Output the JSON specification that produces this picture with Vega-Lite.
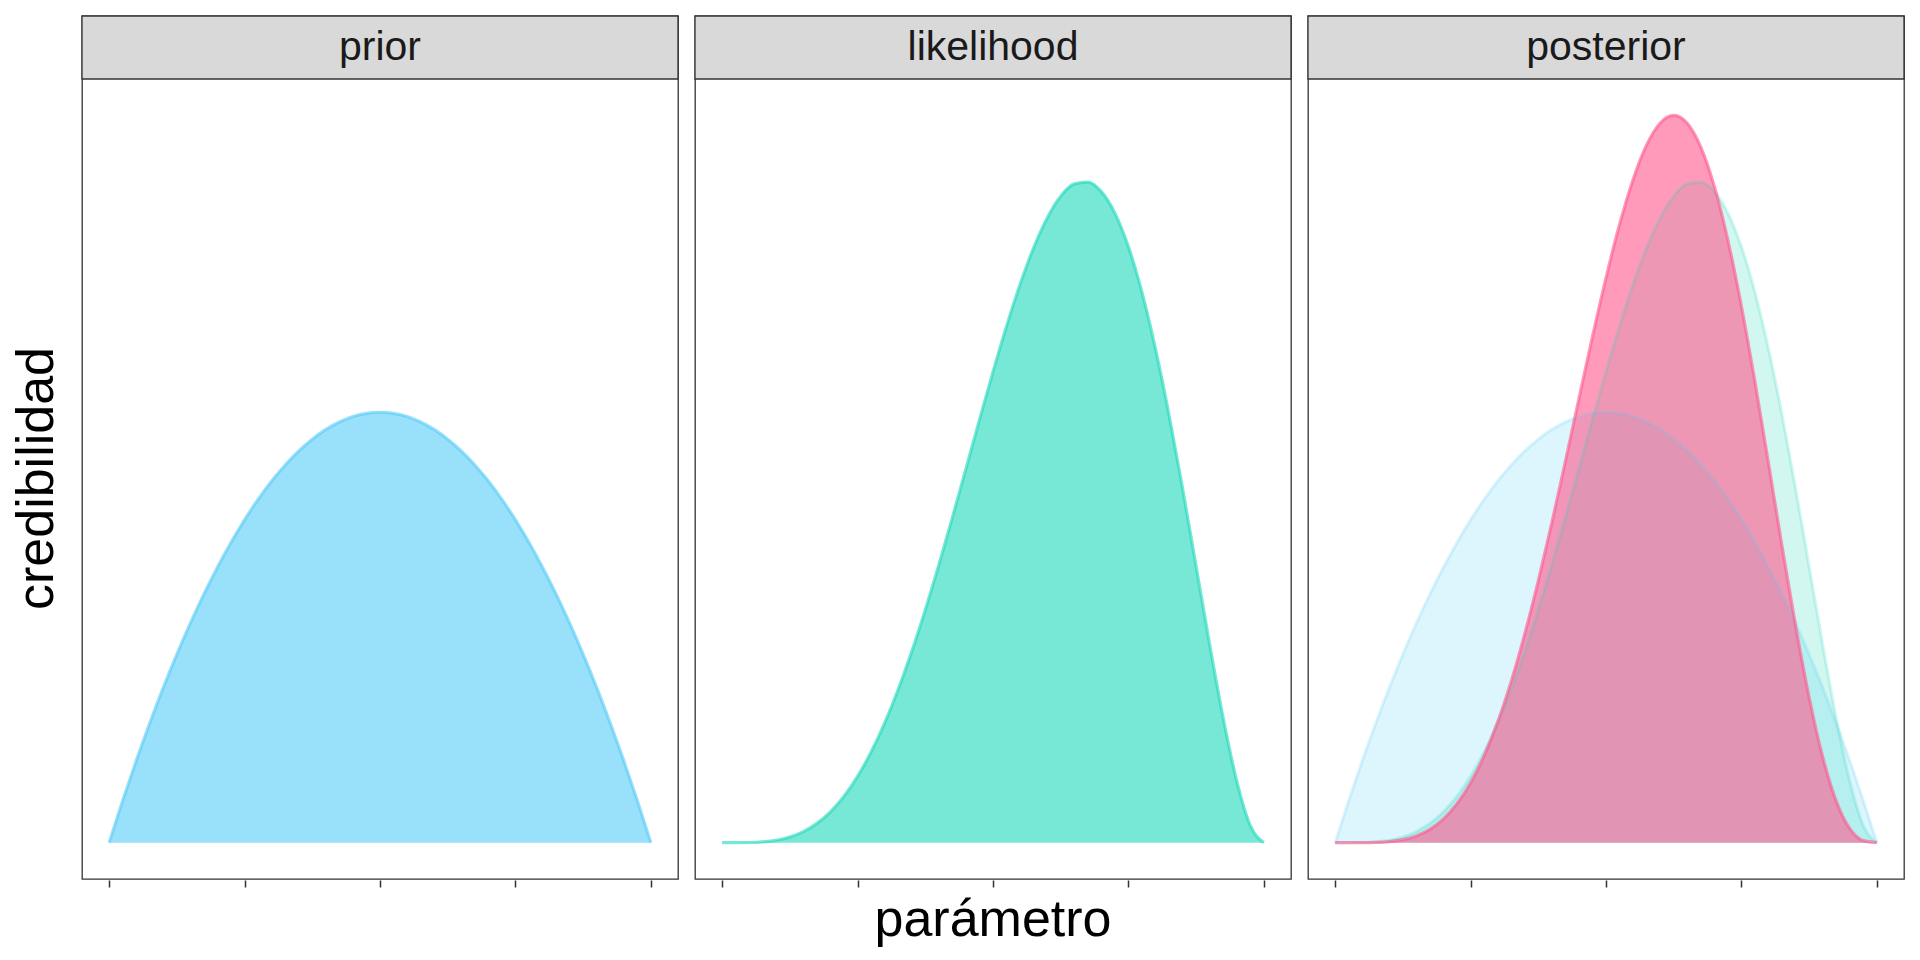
{
  "$schema": "https://vega.github.io/schema/vega-lite/v6.json",
  "padding": {"left": 10, "top": 14, "right": 5, "bottom": 5},
  "background": "white",
  "config": {
    "font": "Liberation Sans",
    "view": {"stroke": "#333333", "strokeWidth": 1.3},
    "axis": {"grid": false, "domain": false}
  },
  "data": {
    "values": [
      {"panel":"prior","series":"prior","x":0,"y":0},{"panel":"prior","series":"prior","x":0.025,"y":0.14625},{"panel":"prior","series":"prior","x":0.05,"y":0.285},{"panel":"prior","series":"prior","x":0.075,"y":0.41625},{"panel":"prior","series":"prior","x":0.1,"y":0.54},{"panel":"prior","series":"prior","x":0.125,"y":0.65625},{"panel":"prior","series":"prior","x":0.15,"y":0.765},{"panel":"prior","series":"prior","x":0.175,"y":0.86625},{"panel":"prior","series":"prior","x":0.2,"y":0.96},{"panel":"prior","series":"prior","x":0.225,"y":1.04625},{"panel":"prior","series":"prior","x":0.25,"y":1.125},{"panel":"prior","series":"prior","x":0.275,"y":1.19625},{"panel":"prior","series":"prior","x":0.3,"y":1.26},{"panel":"prior","series":"prior","x":0.325,"y":1.31625},{"panel":"prior","series":"prior","x":0.35,"y":1.365},{"panel":"prior","series":"prior","x":0.375,"y":1.40625},{"panel":"prior","series":"prior","x":0.4,"y":1.44},{"panel":"prior","series":"prior","x":0.425,"y":1.46625},{"panel":"prior","series":"prior","x":0.45,"y":1.485},{"panel":"prior","series":"prior","x":0.475,"y":1.49625},{"panel":"prior","series":"prior","x":0.5,"y":1.5},{"panel":"prior","series":"prior","x":0.525,"y":1.49625},{"panel":"prior","series":"prior","x":0.55,"y":1.485},{"panel":"prior","series":"prior","x":0.575,"y":1.46625},{"panel":"prior","series":"prior","x":0.6,"y":1.44},{"panel":"prior","series":"prior","x":0.625,"y":1.40625},{"panel":"prior","series":"prior","x":0.65,"y":1.365},{"panel":"prior","series":"prior","x":0.675,"y":1.31625},{"panel":"prior","series":"prior","x":0.7,"y":1.26},{"panel":"prior","series":"prior","x":0.725,"y":1.19625},{"panel":"prior","series":"prior","x":0.75,"y":1.125},{"panel":"prior","series":"prior","x":0.775,"y":1.04625},{"panel":"prior","series":"prior","x":0.8,"y":0.96},{"panel":"prior","series":"prior","x":0.825,"y":0.86625},{"panel":"prior","series":"prior","x":0.85,"y":0.765},{"panel":"prior","series":"prior","x":0.875,"y":0.65625},{"panel":"prior","series":"prior","x":0.9,"y":0.54},{"panel":"prior","series":"prior","x":0.925,"y":0.41625},{"panel":"prior","series":"prior","x":0.95,"y":0.285},{"panel":"prior","series":"prior","x":0.975,"y":0.14625},{"panel":"prior","series":"prior","x":1,"y":0},

      {"panel":"likelihood","series":"likelihood","x":0,"y":0},{"panel":"likelihood","series":"likelihood","x":0.025,"y":0.00004},{"panel":"likelihood","series":"likelihood","x":0.05,"y":0.00059},{"panel":"likelihood","series":"likelihood","x":0.075,"y":0.00284},{"panel":"likelihood","series":"likelihood","x":0.1,"y":0.00851},{"panel":"likelihood","series":"likelihood","x":0.125,"y":0.01962},{"panel":"likelihood","series":"likelihood","x":0.15,"y":0.03841},{"panel":"likelihood","series":"likelihood","x":0.175,"y":0.06703},{"panel":"likelihood","series":"likelihood","x":0.2,"y":0.10752},{"panel":"likelihood","series":"likelihood","x":0.225,"y":0.16163},{"panel":"likelihood","series":"likelihood","x":0.25,"y":0.23071},{"panel":"likelihood","series":"likelihood","x":0.275,"y":0.31564},{"panel":"likelihood","series":"likelihood","x":0.3,"y":0.41675},{"panel":"likelihood","series":"likelihood","x":0.325,"y":0.53375},{"panel":"likelihood","series":"likelihood","x":0.35,"y":0.66571},{"panel":"likelihood","series":"likelihood","x":0.375,"y":0.8111},{"panel":"likelihood","series":"likelihood","x":0.4,"y":0.96768},{"panel":"likelihood","series":"likelihood","x":0.425,"y":1.13262},{"panel":"likelihood","series":"likelihood","x":0.45,"y":1.30246},{"panel":"likelihood","series":"likelihood","x":0.475,"y":1.47329},{"panel":"likelihood","series":"likelihood","x":0.5,"y":1.64063},{"panel":"likelihood","series":"likelihood","x":0.525,"y":1.79975},{"panel":"likelihood","series":"likelihood","x":0.55,"y":1.94565},{"panel":"likelihood","series":"likelihood","x":0.575,"y":2.07319},{"panel":"likelihood","series":"likelihood","x":0.6,"y":2.17728},{"panel":"likelihood","series":"likelihood","x":0.625,"y":2.25306},{"panel":"likelihood","series":"likelihood","x":0.65,"y":2.29604},{"panel":"likelihood","series":"likelihood","x":0.675,"y":2.30235},{"panel":"likelihood","series":"likelihood","x":0.7,"y":2.26895},{"panel":"likelihood","series":"likelihood","x":0.725,"y":2.19385},{"panel":"likelihood","series":"likelihood","x":0.75,"y":2.07642},{"panel":"likelihood","series":"likelihood","x":0.775,"y":1.91762},{"panel":"likelihood","series":"likelihood","x":0.8,"y":1.72032},{"panel":"likelihood","series":"likelihood","x":0.825,"y":1.48963},{"panel":"likelihood","series":"likelihood","x":0.85,"y":1.23324},{"panel":"likelihood","series":"likelihood","x":0.875,"y":0.96171},{"panel":"likelihood","series":"likelihood","x":0.9,"y":0.68891},{"panel":"likelihood","series":"likelihood","x":0.925,"y":0.43239},{"panel":"likelihood","series":"likelihood","x":0.95,"y":0.21381},{"panel":"likelihood","series":"likelihood","x":0.975,"y":0.0593},{"panel":"likelihood","series":"likelihood","x":1,"y":0},

      {"panel":"posterior","series":"prior","x":0,"y":0},{"panel":"posterior","series":"prior","x":0.025,"y":0.14625},{"panel":"posterior","series":"prior","x":0.05,"y":0.285},{"panel":"posterior","series":"prior","x":0.075,"y":0.41625},{"panel":"posterior","series":"prior","x":0.1,"y":0.54},{"panel":"posterior","series":"prior","x":0.125,"y":0.65625},{"panel":"posterior","series":"prior","x":0.15,"y":0.765},{"panel":"posterior","series":"prior","x":0.175,"y":0.86625},{"panel":"posterior","series":"prior","x":0.2,"y":0.96},{"panel":"posterior","series":"prior","x":0.225,"y":1.04625},{"panel":"posterior","series":"prior","x":0.25,"y":1.125},{"panel":"posterior","series":"prior","x":0.275,"y":1.19625},{"panel":"posterior","series":"prior","x":0.3,"y":1.26},{"panel":"posterior","series":"prior","x":0.325,"y":1.31625},{"panel":"posterior","series":"prior","x":0.35,"y":1.365},{"panel":"posterior","series":"prior","x":0.375,"y":1.40625},{"panel":"posterior","series":"prior","x":0.4,"y":1.44},{"panel":"posterior","series":"prior","x":0.425,"y":1.46625},{"panel":"posterior","series":"prior","x":0.45,"y":1.485},{"panel":"posterior","series":"prior","x":0.475,"y":1.49625},{"panel":"posterior","series":"prior","x":0.5,"y":1.5},{"panel":"posterior","series":"prior","x":0.525,"y":1.49625},{"panel":"posterior","series":"prior","x":0.55,"y":1.485},{"panel":"posterior","series":"prior","x":0.575,"y":1.46625},{"panel":"posterior","series":"prior","x":0.6,"y":1.44},{"panel":"posterior","series":"prior","x":0.625,"y":1.40625},{"panel":"posterior","series":"prior","x":0.65,"y":1.365},{"panel":"posterior","series":"prior","x":0.675,"y":1.31625},{"panel":"posterior","series":"prior","x":0.7,"y":1.26},{"panel":"posterior","series":"prior","x":0.725,"y":1.19625},{"panel":"posterior","series":"prior","x":0.75,"y":1.125},{"panel":"posterior","series":"prior","x":0.775,"y":1.04625},{"panel":"posterior","series":"prior","x":0.8,"y":0.96},{"panel":"posterior","series":"prior","x":0.825,"y":0.86625},{"panel":"posterior","series":"prior","x":0.85,"y":0.765},{"panel":"posterior","series":"prior","x":0.875,"y":0.65625},{"panel":"posterior","series":"prior","x":0.9,"y":0.54},{"panel":"posterior","series":"prior","x":0.925,"y":0.41625},{"panel":"posterior","series":"prior","x":0.95,"y":0.285},{"panel":"posterior","series":"prior","x":0.975,"y":0.14625},{"panel":"posterior","series":"prior","x":1,"y":0},

      {"panel":"posterior","series":"likelihood","x":0,"y":0},{"panel":"posterior","series":"likelihood","x":0.025,"y":0.00004},{"panel":"posterior","series":"likelihood","x":0.05,"y":0.00059},{"panel":"posterior","series":"likelihood","x":0.075,"y":0.00284},{"panel":"posterior","series":"likelihood","x":0.1,"y":0.00851},{"panel":"posterior","series":"likelihood","x":0.125,"y":0.01962},{"panel":"posterior","series":"likelihood","x":0.15,"y":0.03841},{"panel":"posterior","series":"likelihood","x":0.175,"y":0.06703},{"panel":"posterior","series":"likelihood","x":0.2,"y":0.10752},{"panel":"posterior","series":"likelihood","x":0.225,"y":0.16163},{"panel":"posterior","series":"likelihood","x":0.25,"y":0.23071},{"panel":"posterior","series":"likelihood","x":0.275,"y":0.31564},{"panel":"posterior","series":"likelihood","x":0.3,"y":0.41675},{"panel":"posterior","series":"likelihood","x":0.325,"y":0.53375},{"panel":"posterior","series":"likelihood","x":0.35,"y":0.66571},{"panel":"posterior","series":"likelihood","x":0.375,"y":0.8111},{"panel":"posterior","series":"likelihood","x":0.4,"y":0.96768},{"panel":"posterior","series":"likelihood","x":0.425,"y":1.13262},{"panel":"posterior","series":"likelihood","x":0.45,"y":1.30246},{"panel":"posterior","series":"likelihood","x":0.475,"y":1.47329},{"panel":"posterior","series":"likelihood","x":0.5,"y":1.64063},{"panel":"posterior","series":"likelihood","x":0.525,"y":1.79975},{"panel":"posterior","series":"likelihood","x":0.55,"y":1.94565},{"panel":"posterior","series":"likelihood","x":0.575,"y":2.07319},{"panel":"posterior","series":"likelihood","x":0.6,"y":2.17728},{"panel":"posterior","series":"likelihood","x":0.625,"y":2.25306},{"panel":"posterior","series":"likelihood","x":0.65,"y":2.29604},{"panel":"posterior","series":"likelihood","x":0.675,"y":2.30235},{"panel":"posterior","series":"likelihood","x":0.7,"y":2.26895},{"panel":"posterior","series":"likelihood","x":0.725,"y":2.19385},{"panel":"posterior","series":"likelihood","x":0.75,"y":2.07642},{"panel":"posterior","series":"likelihood","x":0.775,"y":1.91762},{"panel":"posterior","series":"likelihood","x":0.8,"y":1.72032},{"panel":"posterior","series":"likelihood","x":0.825,"y":1.48963},{"panel":"posterior","series":"likelihood","x":0.85,"y":1.23324},{"panel":"posterior","series":"likelihood","x":0.875,"y":0.96171},{"panel":"posterior","series":"likelihood","x":0.9,"y":0.68891},{"panel":"posterior","series":"likelihood","x":0.925,"y":0.43239},{"panel":"posterior","series":"likelihood","x":0.95,"y":0.21381},{"panel":"posterior","series":"likelihood","x":0.975,"y":0.0593},{"panel":"posterior","series":"likelihood","x":1,"y":0},

      {"panel":"posterior","series":"posterior","x":0,"y":0},{"panel":"posterior","series":"posterior","x":0.025,"y":0.000005},{"panel":"posterior","series":"posterior","x":0.05,"y":0.000135},{"panel":"posterior","series":"posterior","x":0.075,"y":0.000947},{"panel":"posterior","series":"posterior","x":0.1,"y":0.003674},{"panel":"posterior","series":"posterior","x":0.125,"y":0.010304},{"panel":"posterior","series":"posterior","x":0.15,"y":0.023505},{"panel":"posterior","series":"posterior","x":0.175,"y":0.04645},{"panel":"posterior","series":"posterior","x":0.2,"y":0.082575},{"panel":"posterior","series":"posterior","x":0.225,"y":0.13528},{"panel":"posterior","series":"posterior","x":0.25,"y":0.20764},{"panel":"posterior","series":"posterior","x":0.275,"y":0.30208},{"panel":"posterior","series":"posterior","x":0.3,"y":0.42008},{"panel":"posterior","series":"posterior","x":0.325,"y":0.56204},{"panel":"posterior","series":"posterior","x":0.35,"y":0.72696},{"panel":"posterior","series":"posterior","x":0.375,"y":0.91249},{"panel":"posterior","series":"posterior","x":0.4,"y":1.11477},{"panel":"posterior","series":"posterior","x":0.425,"y":1.32853},{"panel":"posterior","series":"posterior","x":0.45,"y":1.54733},{"panel":"posterior","series":"posterior","x":0.475,"y":1.76352},{"panel":"posterior","series":"posterior","x":0.5,"y":1.96875},{"panel":"posterior","series":"posterior","x":0.525,"y":2.15431},{"panel":"posterior","series":"posterior","x":0.55,"y":2.31143},{"panel":"posterior","series":"posterior","x":0.575,"y":2.43186},{"panel":"posterior","series":"posterior","x":0.6,"y":2.50823},{"panel":"posterior","series":"posterior","x":0.625,"y":2.53468},{"panel":"posterior","series":"posterior","x":0.65,"y":2.50727},{"panel":"posterior","series":"posterior","x":0.675,"y":2.42436},{"panel":"posterior","series":"posterior","x":0.7,"y":2.2871},{"panel":"posterior","series":"posterior","x":0.725,"y":2.09952},{"panel":"posterior","series":"posterior","x":0.75,"y":1.86878},{"panel":"posterior","series":"posterior","x":0.775,"y":1.60509},{"panel":"posterior","series":"posterior","x":0.8,"y":1.32121},{"panel":"posterior","series":"posterior","x":0.825,"y":1.03232},{"panel":"posterior","series":"posterior","x":0.85,"y":0.75474},{"panel":"posterior","series":"posterior","x":0.875,"y":0.5049},{"panel":"posterior","series":"posterior","x":0.9,"y":0.29761},{"panel":"posterior","series":"posterior","x":0.925,"y":0.14399},{"panel":"posterior","series":"posterior","x":0.95,"y":0.04875},{"panel":"posterior","series":"posterior","x":0.975,"y":0.00694},{"panel":"posterior","series":"posterior","x":1,"y":0}
    ]
  },
  "facet": {
    "column": {
      "field": "panel",
      "type": "nominal",
      "sort": ["prior", "likelihood", "posterior"],
      "header": {
        "labels": false,
        "title": "parámetro",
        "titleOrient": "bottom",
        "titleFont": "Liberation Sans",
        "titleFontSize": 52,
        "titleFontWeight": "normal",
        "titleColor": "#000000",
        "titleBaseline": "top",
        "titlePadding": -3
      }
    }
  },
  "spacing": 13,
  "spec": {
    "width": 596,
    "height": 863,
    "encoding": {
      "x": {
        "field": "x",
        "type": "quantitative",
        "scale": {"domain": [-0.05, 1.05], "nice": false, "zero": false},
        "axis": {
          "title": null,
          "values": [0, 0.25, 0.5, 0.75, 1],
          "labels": false,
          "ticks": true,
          "tickSize": 7,
          "tickWidth": 1.5,
          "tickColor": "#333333"
        }
      },
      "y": {
        "field": "y",
        "type": "quantitative",
        "stack": null,
        "scale": {"domain": [-0.1267, 2.881], "nice": false, "zero": false},
        "axis": {
          "title": "credibilidad",
          "labels": false,
          "ticks": false,
          "titleFont": "Liberation Sans",
          "titleFontSize": 52,
          "titleFontWeight": "normal",
          "titleColor": "#000000",
          "titlePadding": 17,
          "titleY": 462
        }
      }
    },
    "layer": [
      {
        "mark": {"type": "area", "interpolate": "monotone"},
        "encoding": {
          "color": {
            "field": "series",
            "type": "nominal",
            "scale": {"domain": ["prior", "likelihood", "posterior"], "range": ["#55CBF7", "#1ED9BB", "#FF578C"]},
            "legend": null
          },
          "opacity": {
            "condition": {"test": "datum.panel == 'posterior' && datum.series != 'posterior'", "value": 0.2},
            "value": 0.6
          }
        }
      },
      {
        "mark": {"type": "line", "interpolate": "monotone", "strokeWidth": 3.2},
        "encoding": {
          "color": {"field": "series", "type": "nominal", "legend": null},
          "opacity": {
            "condition": {"test": "datum.panel == 'posterior' && datum.series != 'posterior'", "value": 0.2},
            "value": 0.6
          }
        }
      },
      {
        "transform": [{"filter": "datum.x == 0 && datum.series == datum.panel"}],
        "mark": {"type": "rect", "fill": "#D9D9D9", "stroke": "#333333", "strokeWidth": 1.3},
        "encoding": {
          "x": {"datum": -0.05},
          "x2": {"datum": 1.05},
          "y": {"datum": 2.6614},
          "y2": {"datum": 2.881}
        }
      },
      {
        "transform": [{"filter": "datum.x == 0 && datum.series == datum.panel"}],
        "mark": {"type": "text", "font": "Liberation Sans", "fontSize": 41, "color": "#1A1A1A", "baseline": "middle", "align": "center"},
        "encoding": {
          "x": {"datum": 0.5},
          "y": {"datum": 2.7712},
          "text": {"field": "panel", "type": "nominal"}
        }
      }
    ]
  }
}
